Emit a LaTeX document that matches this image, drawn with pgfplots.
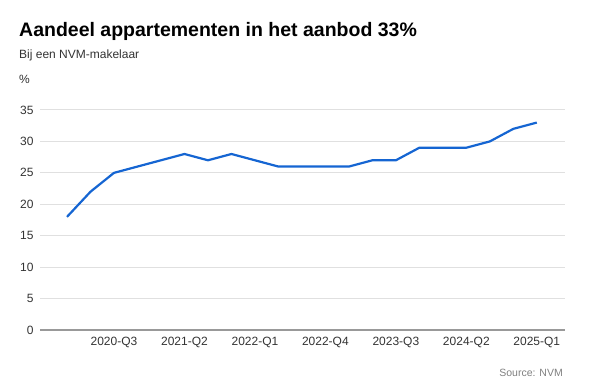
\documentclass[border=0pt]{standalone}
\usepackage{pgfplots}
\pgfplotsset{compat=1.18}
\usepackage{fontspec}
\setmainfont{Liberation Sans}
\definecolor{lineblue}{RGB}{21,101,210}
\definecolor{gridgray}{RGB}{224,224,224}
\definecolor{txtgray}{RGB}{51,51,51}
\begin{document}
\begin{tikzpicture}[x=1pt,y=1pt]
\path (0,0) rectangle (600,390);
\node[anchor=base west,font=\bfseries\fontsize{19.5}{22}\selectfont,text=black,inner sep=0] at (19,353) {Aandeel appartementen in het aanbod 33\%};
\node[anchor=base west,font=\fontsize{12}{14}\selectfont,text=txtgray,inner sep=0] at (19,331) {Bij een NVM-makelaar};
\node[anchor=base west,font=\fontsize{12}{14}\selectfont,text=txtgray,inner sep=0] at (19,306) {\%};
\node[anchor=base east,font=\fontsize{10.5}{12}\selectfont,text=gray,inner sep=0] at (563,13) {Source: NVM};
\begin{axis}[
  at={(40pt,60pt)}, anchor=south west,
  scale only axis, width=525pt, height=220pt,
  xmin=-1.15, xmax=21.2, ymin=0, ymax=35,
  axis x line*=bottom, axis y line*=left,
  axis line style={draw=none},
  ytick={0,5,...,35},
  xtick={2,5,8,11,14,17,20},
  xticklabels={2020-Q3,2021-Q2,2022-Q1,2022-Q4,2023-Q3,2024-Q2,2025-Q1},
  ymajorgrids, grid style={gridgray, line width=1pt},
  major tick length=0pt,
  tick label style={font=\fontsize{12}{14}\selectfont, text=txtgray},
  /pgf/number format/assume math mode=true,
  yticklabel style={anchor=east, xshift=-3pt},
  xticklabel style={yshift=-4pt},
  clip=false,
]
\draw[gray!80, line width=1.2pt] (axis cs:-1.15,0) -- (axis cs:21.2,0);
\addplot[lineblue, line width=2.2pt, line join=round] coordinates {
(0,18)(1,22)(2,25)(3,26)(4,27)(5,28)(6,27)(7,28)(8,27)(9,26)(10,26)(11,26)(12,26)(13,27)(14,27)(15,29)(16,29)(17,29)(18,30)(19,32)(20,33)
};
\end{axis}
\end{tikzpicture}
\end{document}
